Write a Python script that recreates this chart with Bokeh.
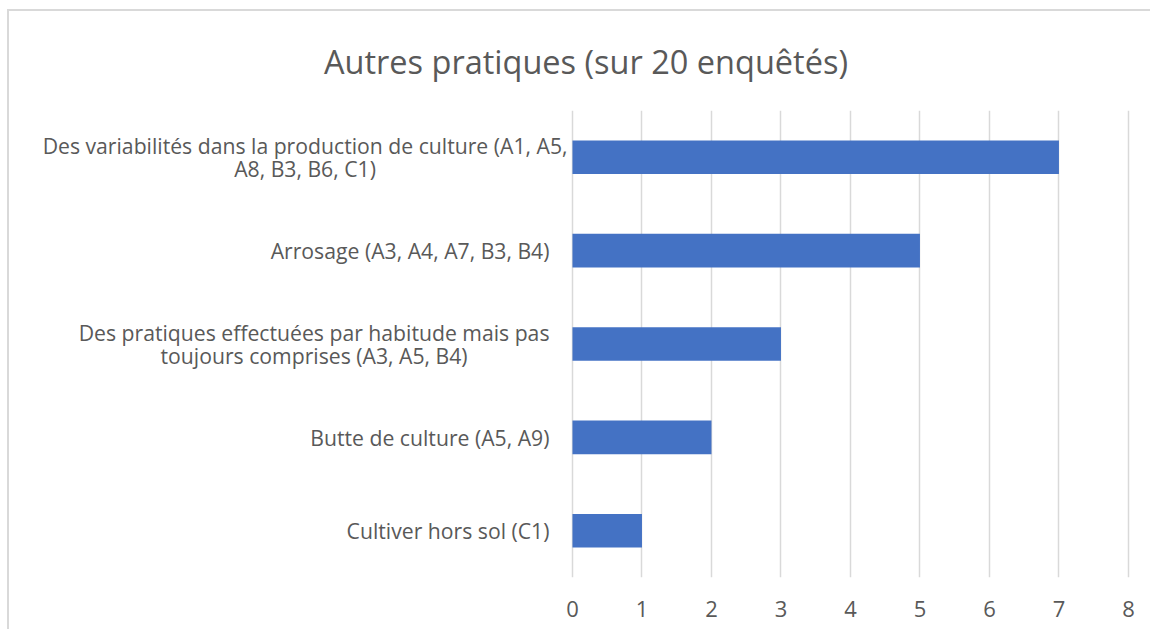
from bokeh.plotting import figure
from bokeh.models import Range1d, FactorRange, FixedTicker
from bokeh.core.properties import value
from bokeh.embed import file_html
from bokeh.resources import INLINE

# ---- data ----
categories = [
    "Des variabilités dans la production de culture (A1, A5,\nA8, B3, B6, C1)",
    "Arrosage (A3, A4, A7, B3, B4)",
    "Des pratiques effectuées par habitude mais pas\ntoujours comprises (A3, A5, B4)",
    "Butte de culture (A5, A9)",
    "Cultiver hors sol (C1)",
]
counts = [7, 5, 3, 2, 1]
x_ticks = [0, 1, 2, 3, 4, 5, 6, 7, 8]
title_text = "Autres pratiques (sur 20 enquêtés)"

TEXT = "#595959"
GRID = "#d9d9d9"
BAR = "#4472c4"
FONT = "Open Sans"

# ---- layout (pixels) ----
W, H = 1143, 620            # figure incl. 2px left/top border
CW = W - 2                  # canvas width
FRAME_L, FRAME_R = 10, CW   # frame spans almost whole canvas (labels drawn inside)
AXIS_L, AXIS_R = 562, 1117  # where the value axis 0..8 sits on the canvas
px_per_unit = (AXIS_R - AXIS_L) / (x_ticks[-1] - x_ticks[0])
x_start = x_ticks[0] - (AXIS_L - FRAME_L) / px_per_unit
x_end = x_ticks[0] + (FRAME_R - AXIS_L) / px_per_unit
label_offsets = [-5, -23, -23, -23, -23]   # px gap between label box and axis

factors = list(reversed(categories))  # bottom to top
p = figure(
    width=W, height=H,
    y_range=FactorRange(factors=factors, range_padding=0),
    x_range=Range1d(x_start, x_end),
    output_backend="svg", toolbar_location=None,
    min_border_left=FRAME_L, min_border_right=0,
    min_border_top=99, min_border_bottom=54,
)
p.styles = {
    "margin-left": "7px", "margin-top": "9px",
    "border-left": "2px solid #d9d9d9", "border-top": "2px solid #d9d9d9",
}

p.hbar(y=categories, left=0, right=counts, height=0.36,
       fill_color=BAR, line_color=None)

# category labels: box right-anchored left of the value axis, lines centred
p.text(x=[x_ticks[0]] * len(categories), y=categories, text=categories,
       x_offset=label_offsets, anchor=value("center_right"), text_align="center",
       text_baseline="middle",
       text_font=value(FONT), text_font_size="21.2px", text_color=TEXT,
       text_line_height=0.8)

p.title.text = title_text
p.title.align = "center"
p.title.vertical_align = "top"
p.title.standoff = 50
p.title.text_font = FONT
p.title.text_font_size = "32.5px"
p.title.text_font_style = "normal"
p.title.text_color = TEXT

p.outline_line_color = None
p.ygrid.grid_line_color = None
p.xgrid.grid_line_color = GRID
p.xgrid.grid_line_width = 1.5
p.xaxis.ticker = FixedTicker(ticks=x_ticks, minor_ticks=[])

ax = p.xaxis[0]
ax.axis_line_color = None
ax.major_tick_line_color = None
ax.minor_tick_line_color = None
ax.major_tick_out = 0
ax.major_tick_in = 0
ax.major_label_text_font = FONT
ax.major_label_text_color = TEXT
ax.major_label_text_font_size = "22px"
ax.major_label_standoff = 23

p.yaxis.visible = False

open("out.html", "w").write(file_html(p, INLINE))
